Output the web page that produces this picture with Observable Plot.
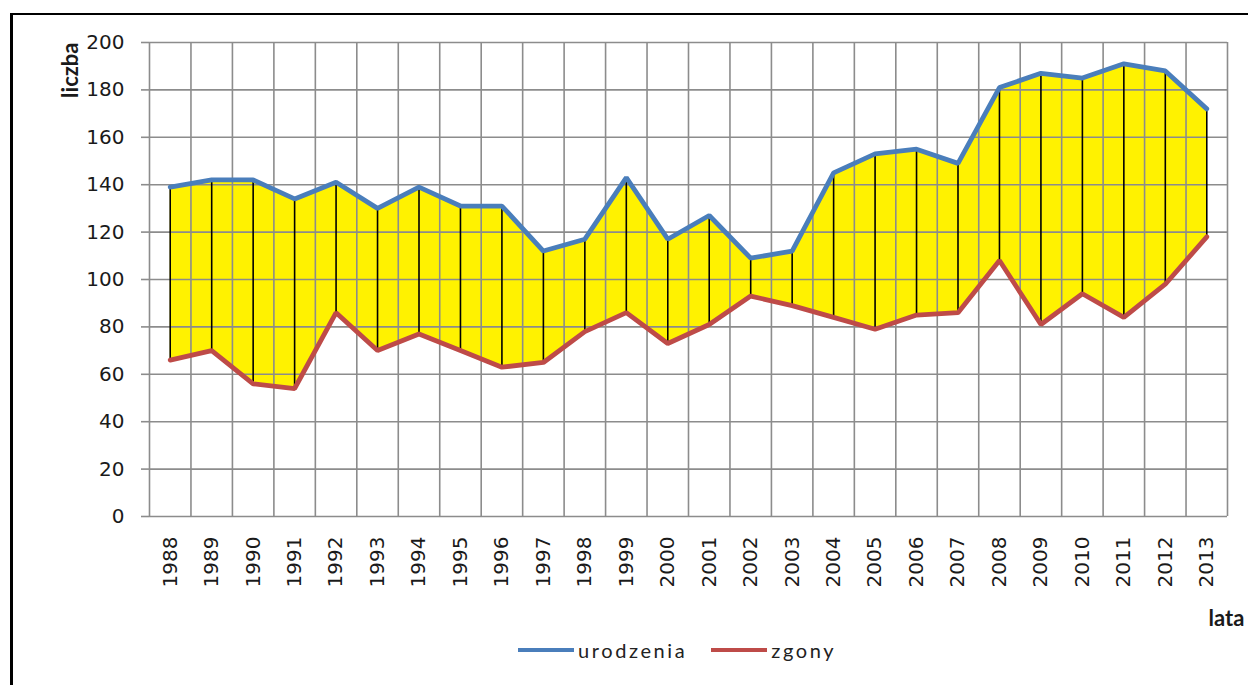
<!DOCTYPE html>
<html>
<head>
<meta charset="utf-8">
<script src="https://cdn.jsdelivr.net/npm/d3@7"></script>
<script src="https://cdn.jsdelivr.net/npm/@observablehq/plot@0.6"></script>
<style>
  html, body { margin: 0; padding: 0; background: #fff; overflow: hidden; }
  #wrap { position: relative; width: 1248px; height: 685px; }
  #frame { position: absolute; left: 10px; top: 13px; width: 1400px; height: 900px;
           border-left: 3px solid #000; border-top: 2px solid #000; pointer-events: none; }
  #chart { position: absolute; left: 0; top: 0; }
  #legend { position: absolute; left: 518px; top: 638px; display: flex; align-items: center;
            font-family: Lato, sans-serif; font-size: 20px; letter-spacing: 2.6px; color: #222; }
  .sw { display: inline-block; width: 56px; height: 4px; margin-right: 4px; }
  .item { display: flex; align-items: center; margin-right: 24px; }
</style>
</head>
<body>
<div id="wrap">
  <div id="chart"></div>
  <div id="legend"></div>
  <div id="frame"></div>
</div>
<script>
const years = [1988,1989,1990,1991,1992,1993,1994,1995,1996,1997,1998,1999,2000,2001,2002,2003,2004,2005,2006,2007,2008,2009,2010,2011,2012,2013];
const births = [139,142,142,134,141,130,139,131,131,112,117,143,117,127,109,112,145,153,155,149,181,187,185,191,188,172];
const deaths = [66,70,56,54,86,70,77,70,63,65,78,86,73,81,93,89,84,79,85,86,108,81,94,84,98,118];
const seriesNames = ["urodzenia", "zgony"];
const seriesColors = ["#4A7EBB", "#BE4B48"];
const yTicks = [0,20,40,60,80,100,120,140,160,180,200];

const data = years.map((y, i) => ({year: y, births: births[i], deaths: deaths[i]}));
const edges = years.map(y => y - 0.5).concat([years[years.length - 1] + 0.5]);

const plot = Plot.plot({
  width: 1248,
  height: 640,
  marginLeft: 149,
  marginRight: 21,
  marginTop: 42,
  marginBottom: 124,
  style: {fontFamily: "'DejaVu Sans', sans-serif", fontSize: "20px", color: "#1a1a1a", background: "transparent"},
  x: {type: "linear", domain: [years[0] - 0.5, years[years.length - 1] + 0.5]},
  y: {domain: [0, 200]},
  marks: [
    Plot.areaY(data, {x: "year", y1: "deaths", y2: "births", fill: "#FFF200", curve: "linear"}),
    Plot.gridX({ticks: edges, stroke: "#8C8C8C", strokeOpacity: 1, strokeWidth: 1.6}),
    Plot.gridY({ticks: yTicks, stroke: "#8C8C8C", strokeOpacity: 1, strokeWidth: 1.6}),
    Plot.axisY({ticks: yTicks, tickSize: 8, tickPadding: 17, stroke: "#8C8C8C", strokeWidth: 1.6, label: null, fontSize: 20}),
    Plot.axisX({ticks: years, tickFormat: d => String(d), tickRotate: -90, tickSize: 0, tickPadding: 20, label: null, fontSize: 20}),
    Plot.ruleX(data, {x: "year", y1: "deaths", y2: "births", stroke: "#000", strokeWidth: 1.6}),
    Plot.lineY(data, {x: "year", y: "deaths", stroke: seriesColors[1], strokeWidth: 4.8, strokeLinejoin: "miter"}),
    Plot.lineY(data, {x: "year", y: "births", stroke: seriesColors[0], strokeWidth: 4.8, strokeLinejoin: "miter"}),
    Plot.text(["liczba"], {frameAnchor: "top-left", text: d => d, rotate: -90, textAnchor: "end", dx: -87, dy: 0,
      fontFamily: "Lato, sans-serif", fontWeight: "bold", fontSize: 22, fill: "#1a1a1a"}),
    Plot.text(["lata"], {frameAnchor: "bottom-right", text: d => d, textAnchor: "middle", dx: -1, dy: 109,
      fontFamily: "Lato, sans-serif", fontWeight: "bold", fontSize: 22, fill: "#1a1a1a"})
  ]
});
document.getElementById("chart").appendChild(plot);

const legend = document.getElementById("legend");
seriesNames.forEach((name, i) => {
  const item = document.createElement("div");
  item.className = "item";
  const sw = document.createElement("span");
  sw.className = "sw";
  sw.style.background = seriesColors[i];
  const t = document.createElement("span");
  t.textContent = name;
  item.appendChild(sw);
  item.appendChild(t);
  legend.appendChild(item);
});
</script>
</body>
</html>
